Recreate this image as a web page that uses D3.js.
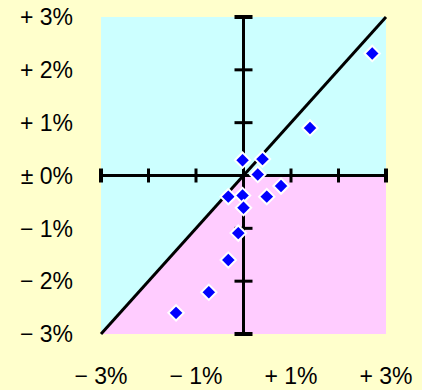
<!DOCTYPE html>
<html>
<head>
<meta charset="utf-8">
<script src="https://cdn.jsdelivr.net/npm/d3@7"></script>
<style>
  html, body { margin: 0; padding: 0; background: #FFFFCC; }
  svg { display: block; }
  .lbl { font-family: "Liberation Sans", Arial, sans-serif; font-size: 23px; fill: #000; }
</style>
</head>
<body>
<div id="chart"></div>
<script>
// scatter points, in percent
const xValues = [2.71, 1.40, -0.02, 0.40, 0.30, 0.79, 0.49, -0.32, -0.02, 0.00, -0.11, -0.32, -0.73, -1.42];
const yValues = [2.31, 0.90, 0.29, 0.31, 0.02, -0.20, -0.40, -0.40, -0.38, -0.61, -1.09, -1.60, -2.21, -2.60];

const tickValues = [-3, -2, -1, 0, 1, 2, 3];
const yTickLabels = ["\u2212 3%", "\u2212 2%", "\u2212 1%", "\u00b1 0%", "+ 1%", "+ 2%", "+ 3%"];
const xLabelValues = [-3, -1, 1, 3];
const xTickLabels = ["\u2212 3%", "\u2212 1%", "+ 1%", "+ 3%"];

const data = xValues.map((x, i) => ({x: x, y: yValues[i]}));

const width = 422, height = 390;
const svg = d3.select("#chart").append("svg")
  .attr("width", width).attr("height", height);

const xScale = d3.scaleLinear().domain([-3, 3]).range([101, 386]);
const yScale = d3.scaleLinear().domain([-3, 3]).range([334, 17]);

// plot background: cyan everywhere, pink below zero and below the diagonal
svg.append("rect")
  .attr("x", xScale(-3)).attr("y", yScale(3))
  .attr("width", xScale(3) - xScale(-3))
  .attr("height", yScale(-3) - yScale(3))
  .attr("fill", "#CCFFFF");

const pink = [[-3, -3], [0, 0], [3, 0], [3, -3]];
svg.append("path")
  .attr("d", d3.line().x(d => xScale(d[0])).y(d => yScale(d[1]))(pink) + "Z")
  .attr("fill", "#FFCCFF");

// axes through zero
const axes = svg.append("g").attr("stroke", "#000");
axes.append("line")
  .attr("x1", xScale(-3)).attr("x2", xScale(3))
  .attr("y1", yScale(0)).attr("y2", yScale(0))
  .attr("stroke-width", 3);
axes.append("line")
  .attr("x1", xScale(0)).attr("x2", xScale(0))
  .attr("y1", yScale(3)).attr("y2", yScale(-3))
  .attr("stroke-width", 3);

axes.selectAll(".xt").data(tickValues).join("line")
  .attr("class", "xt")
  .attr("x1", d => xScale(d)).attr("x2", d => xScale(d))
  .attr("y1", yScale(0) - 7).attr("y2", yScale(0) + 7)
  .attr("stroke-width", d => Math.abs(d) === 3 ? 4 : 3);

axes.selectAll(".yt").data(tickValues).join("line")
  .attr("class", "yt")
  .attr("x1", xScale(0) - 9).attr("x2", xScale(0) + 9)
  .attr("y1", d => yScale(d)).attr("y2", d => yScale(d))
  .attr("stroke-width", d => Math.abs(d) === 3 ? 4 : 3);

// diagonal y = x
svg.append("line")
  .attr("x1", xScale(-3)).attr("y1", yScale(-3))
  .attr("x2", xScale(3)).attr("y2", yScale(3))
  .attr("stroke", "#000").attr("stroke-width", 3);

// points
const diamond = d3.symbol().type(d3.symbolDiamond2).size(150);
svg.append("g").selectAll("path").data(data).join("path")
  .attr("transform", d => `translate(${xScale(d.x)},${yScale(d.y)})`)
  .attr("d", diamond)
  .attr("fill", "#0000FF")
  .attr("stroke", "#fff")
  .attr("stroke-width", 2);

// labels
svg.append("g").selectAll("text").data(tickValues).join("text")
  .attr("class", "lbl")
  .attr("x", 73)
  .attr("y", d => yScale(d))
  .attr("dy", "0.36em")
  .attr("text-anchor", "end")
  .text((d, i) => yTickLabels[i]);

svg.append("g").selectAll("text").data(xLabelValues).join("text")
  .attr("class", "lbl")
  .attr("x", d => xScale(d))
  .attr("y", 384)
  .attr("text-anchor", "middle")
  .text((d, i) => xTickLabels[i]);
</script>
</body>
</html>
